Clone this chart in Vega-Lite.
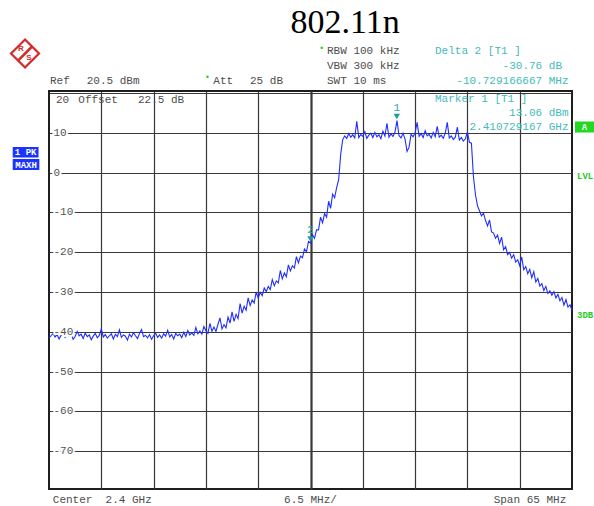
{
  "$schema": "https://vega.github.io/schema/vega-lite/v6.json",
  "width": 523,
  "height": 398,
  "autosize": {"type": "none"},
  "padding": {"left": 49, "top": 91, "right": 22, "bottom": 17},
  "background": "white",
  "config": {"view": {"stroke": "#1e1e1e", "strokeWidth": 2}, "font": "Liberation Mono"},
  "datasets": {
    "trace": [
      {"f":2367.5,"p":-41.6},{"f":2367.75,"p":-41.0},{"f":2368,"p":-40.4},{"f":2368.25,"p":-41.3},{"f":2368.5,"p":-40.7},{"f":2368.75,"p":-41.8},{"f":2369,"p":-40.9},{"f":2369.25,"p":-40.2},{"f":2369.5,"p":-41.4},{"f":2369.75,"p":-40.8},
      {"f":2370,"p":-41.1},{"f":2370.25,"p":-40.5},{"f":2370.5,"p":-41.9},{"f":2370.75,"p":-41.2},{"f":2371,"p":-39.9},{"f":2371.25,"p":-41.0},{"f":2371.5,"p":-40.6},{"f":2371.75,"p":-41.7},{"f":2372,"p":-40.3},{"f":2372.25,"p":-41.2},
      {"f":2372.5,"p":-40.8},{"f":2372.75,"p":-42.0},{"f":2373,"p":-41.1},{"f":2373.25,"p":-40.4},{"f":2373.5,"p":-41.5},{"f":2373.75,"p":-40.9},{"f":2374,"p":-39.3},{"f":2374.25,"p":-41.3},{"f":2374.5,"p":-40.7},{"f":2374.75,"p":-41.6},
      {"f":2375,"p":-41.0},{"f":2375.25,"p":-40.5},{"f":2375.5,"p":-41.8},{"f":2375.75,"p":-40.6},{"f":2376,"p":-41.2},{"f":2376.25,"p":-39.5},{"f":2376.5,"p":-41.4},{"f":2376.75,"p":-40.8},{"f":2377,"p":-41.1},{"f":2377.25,"p":-42.1},
      {"f":2377.5,"p":-40.6},{"f":2377.75,"p":-41.3},{"f":2378,"p":-40.2},{"f":2378.25,"p":-41.0},{"f":2378.5,"p":-41.7},{"f":2378.75,"p":-40.4},{"f":2379,"p":-39.4},{"f":2379.25,"p":-41.2},{"f":2379.5,"p":-40.9},{"f":2379.75,"p":-41.5},
      {"f":2380,"p":-40.7},{"f":2380.25,"p":-41.9},{"f":2380.5,"p":-41.0},{"f":2380.75,"p":-40.3},{"f":2381,"p":-41.4},{"f":2381.25,"p":-40.8},{"f":2381.5,"p":-41.6},{"f":2381.75,"p":-40.5},{"f":2382,"p":-41.1},{"f":2382.25,"p":-39.6},
      {"f":2382.5,"p":-41.3},{"f":2382.75,"p":-40.7},{"f":2383,"p":-41.8},{"f":2383.25,"p":-40.4},{"f":2383.5,"p":-41.0},{"f":2383.75,"p":-40.6},{"f":2384,"p":-41.5},{"f":2384.25,"p":-40.1},{"f":2384.5,"p":-41.2},{"f":2384.75,"p":-39.7},
      {"f":2385,"p":-40.8},{"f":2385.25,"p":-40.3},{"f":2385.5,"p":-40.9},{"f":2385.75,"p":-38.9},{"f":2386,"p":-40.5},{"f":2386.25,"p":-39.8},{"f":2386.5,"p":-40.6},{"f":2386.75,"p":-38.7},
      {"f":2387,"p":-39.7},{"f":2387.25,"p":-40.4},{"f":2387.5,"p":-37.9},{"f":2387.75,"p":-39.9},{"f":2388,"p":-38.8},{"f":2388.25,"p":-39.9},{"f":2388.5,"p":-38.1},{"f":2388.75,"p":-36.5},{"f":2389,"p":-39.3},{"f":2389.25,"p":-38.2},
      {"f":2389.5,"p":-39.0},{"f":2389.75,"p":-36.3},{"f":2390,"p":-37.8},{"f":2390.25,"p":-35.0},{"f":2390.5,"p":-37.4},{"f":2390.75,"p":-35.6},{"f":2391,"p":-36.7},{"f":2391.25,"p":-32.9},{"f":2391.5,"p":-35.3},{"f":2391.75,"p":-33.6},
      {"f":2392,"p":-34.6},{"f":2392.25,"p":-31.5},{"f":2392.5,"p":-33.4},{"f":2392.75,"p":-32.0},{"f":2393,"p":-32.8},{"f":2393.25,"p":-30.0},{"f":2393.5,"p":-31.5},{"f":2393.75,"p":-30.1},{"f":2394,"p":-30.9},{"f":2394.25,"p":-29.0},
      {"f":2394.5,"p":-29.9},{"f":2394.75,"p":-28.6},{"f":2395,"p":-29.4},{"f":2395.25,"p":-26.9},{"f":2395.5,"p":-28.4},{"f":2395.75,"p":-27.2},{"f":2396,"p":-27.7},{"f":2396.25,"p":-24.6},{"f":2396.5,"p":-26.7},{"f":2396.75,"p":-25.2},
      {"f":2397,"p":-26.2},{"f":2397.25,"p":-23.2},{"f":2397.5,"p":-24.7},{"f":2397.75,"p":-23.4},{"f":2398,"p":-24.0},{"f":2398.25,"p":-21.1},{"f":2398.5,"p":-22.7},{"f":2398.75,"p":-21.0},{"f":2399,"p":-21.4},{"f":2399.25,"p":-19.2},
      {"f":2399.5,"p":-19.9},{"f":2399.75,"p":-17.3},{"f":2400,"p":-17.7},{"f":2400.25,"p":-15.6},{"f":2400.5,"p":-16.5},{"f":2400.75,"p":-14.4},{"f":2401,"p":-14.4},{"f":2401.25,"p":-11.2},{"f":2401.5,"p":-12.6},{"f":2401.75,"p":-10.3},
      {"f":2402,"p":-11.2},{"f":2402.25,"p":-7.2},{"f":2402.5,"p":-9.0},{"f":2402.75,"p":-5.4},{"f":2403,"p":-6.3},{"f":2403.25,"p":-3.8},{"f":2403.5,"p":-1.8},{"f":2403.75,"p":4.5},{"f":2404,"p":8.3},
      {"f":2404.25,"p":9.2},{"f":2404.5,"p":8.6},{"f":2404.75,"p":9.8},{"f":2405,"p":8.9},{"f":2405.25,"p":9.5},{"f":2405.5,"p":8.7},{"f":2405.75,"p":12.9},{"f":2406,"p":8.8},{"f":2406.25,"p":9.6},{"f":2406.5,"p":9.1},
      {"f":2406.75,"p":10.3},{"f":2407,"p":8.6},{"f":2407.25,"p":9.4},{"f":2407.5,"p":9.9},{"f":2407.75,"p":8.8},{"f":2408,"p":10.1},{"f":2408.25,"p":9.0},{"f":2408.5,"p":9.5},{"f":2408.75,"p":8.5},{"f":2409,"p":10.4},
      {"f":2409.25,"p":9.2},{"f":2409.5,"p":12.4},{"f":2409.75,"p":8.9},{"f":2410,"p":9.7},{"f":2410.25,"p":9.1},{"f":2410.5,"p":10.2},{"f":2410.75,"p":13.06},{"f":2411,"p":9.3},{"f":2411.25,"p":8.7},{"f":2411.5,"p":9.9},
      {"f":2411.75,"p":8.4},{"f":2412,"p":5.3},{"f":2412.25,"p":6.4},{"f":2412.5,"p":9.6},{"f":2412.75,"p":9.0},{"f":2413,"p":10.0},{"f":2413.25,"p":12.6},{"f":2413.5,"p":9.1},{"f":2413.75,"p":9.8},{"f":2414,"p":8.8},
      {"f":2414.25,"p":10.5},{"f":2414.5,"p":9.2},{"f":2414.75,"p":9.6},{"f":2415,"p":8.7},{"f":2415.25,"p":10.1},{"f":2415.5,"p":9.0},{"f":2415.75,"p":11.6},{"f":2416,"p":8.9},{"f":2416.25,"p":9.4},{"f":2416.5,"p":8.6},
      {"f":2416.75,"p":9.9},{"f":2417,"p":12.6},{"f":2417.25,"p":8.7},{"f":2417.5,"p":9.2},{"f":2417.75,"p":8.3},{"f":2418,"p":8.9},{"f":2418.25,"p":11.4},{"f":2418.5,"p":8.2},{"f":2418.75,"p":8.8},{"f":2419,"p":7.9},
      {"f":2419.25,"p":8.5},{"f":2419.5,"p":10.2},{"f":2419.75,"p":7.6},{"f":2420,"p":7.4},
      {"f":2420.25,"p":-1.0},{"f":2420.5,"p":-5.5},{"f":2420.75,"p":-8.3},{"f":2421,"p":-9.6},{"f":2421.25,"p":-10.9},{"f":2421.5,"p":-10.2},{"f":2421.75,"p":-12.0},{"f":2422,"p":-13.4},{"f":2422.25,"p":-11.9},{"f":2422.5,"p":-14.9},
      {"f":2422.75,"p":-15.2},{"f":2423,"p":-16.5},{"f":2423.25,"p":-15.7},{"f":2423.5,"p":-17.8},{"f":2423.75,"p":-16.2},{"f":2424,"p":-19.4},{"f":2424.25,"p":-18.6},{"f":2424.5,"p":-20.6},{"f":2424.75,"p":-20.1},{"f":2425,"p":-21.5},
      {"f":2425.25,"p":-20.6},{"f":2425.5,"p":-22.5},{"f":2425.75,"p":-21.9},{"f":2426,"p":-23.4},{"f":2426.25,"p":-21.2},{"f":2426.5,"p":-24.4},{"f":2426.75,"p":-23.6},{"f":2427,"p":-25.4},{"f":2427.25,"p":-24.3},{"f":2427.5,"p":-26.4},
      {"f":2427.75,"p":-24.9},{"f":2428,"p":-27.5},{"f":2428.25,"p":-26.6},{"f":2428.5,"p":-28.5},{"f":2428.75,"p":-27.9},{"f":2429,"p":-29.6},{"f":2429.25,"p":-28.6},{"f":2429.5,"p":-30.4},{"f":2429.75,"p":-29.7},{"f":2430,"p":-30.8},
      {"f":2430.25,"p":-29.9},{"f":2430.5,"p":-31.5},{"f":2430.75,"p":-30.6},{"f":2431,"p":-32.2},{"f":2431.25,"p":-31.4},{"f":2431.5,"p":-33.3},{"f":2431.75,"p":-31.9},{"f":2432,"p":-33.8},{"f":2432.25,"p":-33.2},{"f":2432.5,"p":-34.6}
    ],
    "markers": [
      {"f":2410.729,"p":13.06,"t":"1"},
      {"f":2400.0,"p":-17.7,"t":"2"}
    ],
    "ylabels": [
      {"f":2368.06,"p":10,"t":"10"},{"f":2368.06,"p":0,"t":"0"},{"f":2368.06,"p":-10,"t":"-10"},{"f":2368.06,"p":-20,"t":"-20"},
      {"f":2368.06,"p":-30,"t":"-30"},{"f":2368.06,"p":-40,"t":"-40"},{"f":2368.06,"p":-50,"t":"-50"},{"f":2368.06,"p":-60,"t":"-60"},{"f":2368.06,"p":-70,"t":"-70"}
    ],
    "notes": [
      {"k":"title","f":2404.29,"p":35.07,"t":"802.11n"},
      {"k":"gl","f":2402.05,"p":29.92,"t":"RBW 100 kHz"},
      {"k":"gl","f":2402.05,"p":26.15,"t":"VBW 300 kHz"},
      {"k":"gl","f":2402.05,"p":22.38,"t":"SWT 10 ms"},
      {"k":"gl","f":2367.62,"p":22.38,"t":"Ref"},
      {"k":"gl","f":2372.19,"p":22.38,"t":"20.5 dBm"},
      {"k":"gl","f":2387.92,"p":22.38,"t":"Att"},
      {"k":"gl","f":2392.48,"p":22.38,"t":"25 dB"},
      {"k":"gl","f":2368.37,"p":17.36,"t":"20"},
      {"k":"gl","f":2371.14,"p":17.36,"t":"Offset"},
      {"k":"gl","f":2378.56,"p":17.36,"t":"22.5 dB"},
      {"k":"gl","f":2367.97,"p":-83.02,"t":"Center\u00a0\u00a02.4 GHz"},
      {"k":"gl","f":2422.76,"p":-83.02,"t":"Span 65 MHz"},
      {"k":"gc","f":2400.0,"p":-83.02,"t":"6.5 MHz/"},
      {"k":"dot","f":2401.39,"p":30.98,"t":"•"},
      {"k":"dot","f":2387.17,"p":23.69,"t":"•"},
      {"k":"cl","f":2415.47,"p":29.92,"t":"Delta 2 [T1 ]"},
      {"k":"cl","f":2415.47,"p":17.74,"t":"Marker 1 [T1 ]"},
      {"k":"cr","f":2431.26,"p":26.15,"t":"-30.76 dB"},
      {"k":"cr","f":2432.07,"p":22.38,"t":"-10.729166667 MHz"},
      {"k":"cr","f":2432.07,"p":14.22,"t":"13.06 dBm"},
      {"k":"cr","f":2432.07,"p":10.7,"t":"2.410729167 GHz"},
      {"k":"side","f":2433.12,"p":-0.98,"t":"LVL"},
      {"k":"side","f":2433.12,"p":-35.66,"t":"3DB"},
      {"k":"box","f":2364.6,"p":5.11,"t":"1 PK"},
      {"k":"box","f":2364.65,"p":2.03,"t":"MAXH"},
      {"k":"box","f":2434.05,"p":11.45,"t":"A"}
    ],
    "boxes": [
      {"k":"blue","f":2362.99,"f2":2366.2,"p":6.43,"p2":3.79},
      {"k":"blue","f":2362.99,"f2":2366.3,"p":3.41,"p2":0.65},
      {"k":"green","f":2432.87,"f2":2435.3,"p":12.84,"p2":10.07}
    ],
    "logo": [
      {"f":2364.52,"p":29.92}
    ],
    "stripe": [
      {"f":2363.65,"f2":2365.39,"p":28.16,"p2":31.68}
    ],
    "logoText": [
      {"f":2364.02,"p":30.98,"t":"R"},
      {"f":2365.01,"p":28.72,"t":"S"}
    ]
  },
  "encoding": {
    "x": {"field": "f", "type": "quantitative", "scale": {"domain": [2367.5, 2432.5], "nice": false, "zero": false},
      "axis": {"values": [2374, 2380.5, 2387, 2393.5, 2400, 2406.5, 2413, 2419.5, 2426], "grid": true, "labels": false, "ticks": false, "domain": false, "title": null, "gridColor": "#383838", "gridOpacity": 1, "gridWidth": {"condition": {"test": "datum.value === 2400", "value": 2.2}, "value": 1.2}}},
    "y": {"field": "p", "type": "quantitative", "scale": {"domain": [-79.5, 20.5], "nice": false, "zero": false},
      "axis": {"values": [20, 10, 0, -10, -20, -30, -40, -50, -60, -70], "grid": true, "labels": false, "ticks": false, "domain": false, "title": null, "gridColor": "#383838", "gridOpacity": 1, "gridWidth": 1.2}}
  },
  "layer": [
    {
      "data": {"name": "trace"},
      "mark": {"type": "line", "color": "#1f2eff", "strokeWidth": 1.1}
    },
    {
      "data": {"name": "ylabels"},
      "mark": {"type": "text", "align": "left", "baseline": "middle", "fontSize": 11, "color": "white", "stroke": "white", "strokeWidth": 4},
      "encoding": {"text": {"field": "t"}}
    },
    {
      "data": {"name": "ylabels"},
      "mark": {"type": "text", "align": "left", "baseline": "middle", "fontSize": 11, "color": "#555555"},
      "encoding": {"text": {"field": "t"}}
    },
    {
      "data": {"name": "markers"},
      "mark": {"type": "point", "shape": "triangle-down", "filled": true, "color": "#1a9c9c", "size": 40, "opacity": 1},
      "encoding": {"yOffset": {"value": -4}}
    },
    {
      "data": {"name": "markers"},
      "mark": {"type": "text", "align": "center", "baseline": "middle", "fontSize": 11, "dy": -13, "color": "#2aa8a8"},
      "encoding": {"text": {"field": "t"}}
    },
    {
      "data": {"name": "boxes"},
      "transform": [{"filter": "datum.k === 'blue'"}],
      "mark": {"type": "rect", "color": "#1a33ff", "opacity": 1},
      "encoding": {"x2": {"field": "f2"}, "y2": {"field": "p2"}}
    },
    {
      "data": {"name": "boxes"},
      "transform": [{"filter": "datum.k === 'green'"}],
      "mark": {"type": "rect", "color": "#22d822", "opacity": 1},
      "encoding": {"x2": {"field": "f2"}, "y2": {"field": "p2"}}
    },
    {
      "data": {"name": "notes"},
      "transform": [{"filter": "datum.k === 'title'"}],
      "mark": {"type": "text", "align": "center", "baseline": "alphabetic", "font": "Liberation Serif", "fontSize": 34, "color": "#000000"},
      "encoding": {"text": {"field": "t"}}
    },
    {
      "data": {"name": "notes"},
      "transform": [{"filter": "datum.k === 'gl'"}],
      "mark": {"type": "text", "align": "left", "baseline": "alphabetic", "fontSize": 11, "color": "#4d4d4d"},
      "encoding": {"text": {"field": "t"}}
    },
    {
      "data": {"name": "notes"},
      "transform": [{"filter": "datum.k === 'gc'"}],
      "mark": {"type": "text", "align": "center", "baseline": "alphabetic", "fontSize": 11, "color": "#4d4d4d"},
      "encoding": {"text": {"field": "t"}}
    },
    {
      "data": {"name": "notes"},
      "transform": [{"filter": "datum.k === 'dot'"}],
      "mark": {"type": "text", "align": "center", "baseline": "middle", "font": "DejaVu Sans", "fontSize": 8, "color": "#22cc22"},
      "encoding": {"text": {"field": "t"}}
    },
    {
      "data": {"name": "notes"},
      "transform": [{"filter": "datum.k === 'cl'"}],
      "mark": {"type": "text", "align": "left", "baseline": "alphabetic", "fontSize": 11, "color": "#45baba"},
      "encoding": {"text": {"field": "t"}}
    },
    {
      "data": {"name": "notes"},
      "transform": [{"filter": "datum.k === 'cr'"}],
      "mark": {"type": "text", "align": "right", "baseline": "alphabetic", "fontSize": 11, "color": "#45baba"},
      "encoding": {"text": {"field": "t"}}
    },
    {
      "data": {"name": "notes"},
      "transform": [{"filter": "datum.k === 'side'"}],
      "mark": {"type": "text", "align": "left", "baseline": "middle", "fontSize": 9, "fontWeight": "bold", "color": "#22cc22"},
      "encoding": {"text": {"field": "t"}}
    },
    {
      "data": {"name": "notes"},
      "transform": [{"filter": "datum.k === 'box'"}],
      "mark": {"type": "text", "align": "center", "baseline": "middle", "fontSize": 9, "fontWeight": "bold", "color": "white"},
      "encoding": {"text": {"field": "t"}}
    },
    {
      "data": {"name": "logo"},
      "mark": {"type": "point", "shape": "diamond", "filled": false, "color": "#d42a2a", "strokeWidth": 2.2, "size": 784, "opacity": 1}
    },
    {
      "data": {"name": "stripe"},
      "mark": {"type": "rule", "color": "#d42a2a", "strokeWidth": 2.5},
      "encoding": {"x2": {"field": "f2"}, "y2": {"field": "p2"}}
    },
    {
      "data": {"name": "logoText"},
      "mark": {"type": "text", "align": "center", "baseline": "middle", "font": "Liberation Sans", "fontSize": 8, "fontWeight": "bold", "color": "#d42a2a"},
      "encoding": {"text": {"field": "t"}}
    }
  ]
}
